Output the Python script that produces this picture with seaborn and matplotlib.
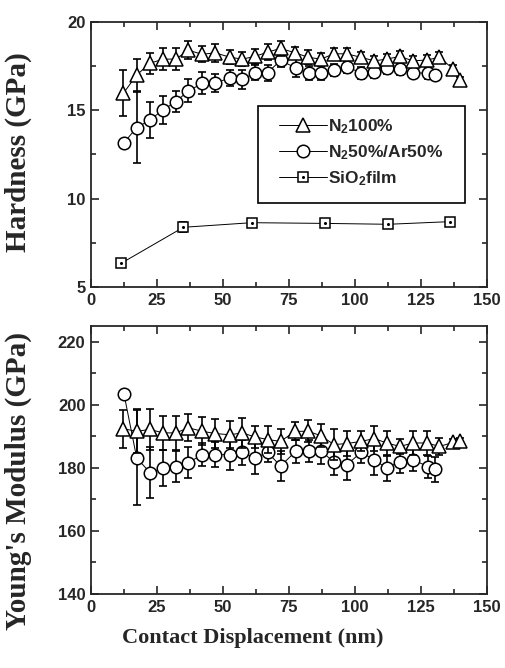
import matplotlib
matplotlib.use("Agg")
import matplotlib.pyplot as plt
from matplotlib.ticker import MultipleLocator
from matplotlib.patches import Rectangle
import seaborn as sns
import pandas as pd

# ---- Hardness data (GPa) vs contact displacement (nm) ----
x_n2 = [12.3, 17.3, 22.3, 27.3, 32.1, 36.9, 42.2, 47.0, 52.7, 57.3, 62.1, 66.9, 71.8,
        77.3, 82.3, 87.1, 92.0, 96.8, 102.3, 107.3, 112.0, 117.0, 122.0, 127.2, 132.0,
        137.2, 139.6]
h_n2 = [15.97, 17.0, 17.66, 17.9, 17.9, 18.4, 18.17, 18.26, 18.0, 17.9, 18.05, 18.3, 18.5,
        18.26, 18.0, 17.9, 18.2, 18.2, 18.0, 17.8, 17.9, 18.05, 17.8, 17.85, 18.0,
        17.34, 16.7]
h_n2_err = [1.3, 0.9, 0.6, 0.6, 0.6, 0.5, 0.45, 0.5, 0.4, 0.4, 0.42, 0.45, 0.4,
            0.35, 0.4, 0.35, 0.35, 0.3, 0.3, 0.3, 0.3, 0.3, 0.3, 0.3, 0.3, 0.2, 0.2]

x_mix = [12.5, 17.3, 22.3, 27.2, 32.1, 36.9, 42.2, 47.0, 52.7, 57.3, 62.1, 66.9, 71.8,
         77.5, 82.5, 87.1, 92.0, 96.9, 102.3, 107.3, 112.0, 117.0, 122.0, 127.6, 130.2]
h_mix = [13.17, 14.02, 14.45, 15.02, 15.49, 16.1, 16.53, 16.53, 16.85, 16.75, 17.12, 17.13,
         17.83, 17.4, 17.1, 17.12, 17.28, 17.45, 17.13, 17.18, 17.4, 17.34, 17.13, 17.1, 17.0]
h_mix_err = [0.2, 2.0, 1.0, 0.8, 0.6, 0.65, 0.62, 0.5, 0.45, 0.55, 0.43, 0.45, 0.4,
             0.5, 0.4, 0.4, 0.35, 0.35, 0.35, 0.35, 0.35, 0.35, 0.3, 0.3, 0.3]

x_sio2 = [11.4, 35.0, 60.9, 88.6, 112.6, 136.0]
h_sio2 = [6.34, 8.38, 8.64, 8.6, 8.55, 8.7]
h_sio2_err = [0.12, 0.28, 0.2, 0.22, 0.2, 0.2]

# ---- Young's modulus data (GPa) ----
e_n2 = [192.4, 191.6, 192.2, 191.1, 191.1, 192.7, 191.6, 190.9, 190.5, 191.1, 189.8, 189.0,
        188.4, 191.6, 191.6, 190.2, 187.4, 187.7, 188.4, 189.3, 187.9, 186.8, 187.9, 187.9,
        186.8, 188.1, 188.5]
e_n2_err = [6.0, 7.0, 6.5, 5.3, 5.3, 4.3, 4.5, 4.5, 4.3, 4.8, 3.4, 4.4, 4.0, 2.9, 3.5, 3.6,
            5.0, 3.9, 3.2, 3.9, 3.7, 2.4, 3.7, 3.7, 2.7, 1.0, 1.0]

e_mix = [203.4, 183.2, 178.5, 179.9, 180.4, 181.7, 184.2, 184.2, 184.2, 184.9, 183.1, 184.9,
         180.6, 185.2, 185.4, 185.2, 182.0, 181.0, 184.9, 182.6, 179.9, 182.0, 182.6, 180.4,
         179.6]
e_mix_err = [0.8, 15.0, 8.0, 5.7, 5.0, 5.0, 3.7, 4.0, 4.8, 4.0, 5.0, 3.0, 4.7, 3.5, 3.5, 4.0,
             4.4, 4.7, 3.5, 4.7, 4.0, 3.5, 3.5, 3.5, 4.0]

series_labels = ["N$_2$100%", "N$_2$50%/Ar50%", "SiO$_2$film"]

sns.set_style("ticks")
plt.rcParams.update({
    "font.family": ["Liberation Sans", "DejaVu Sans"],
    "font.weight": "bold",
    "mathtext.fontset": "custom",
    "mathtext.rm": "Liberation Sans:bold",
    "mathtext.it": "Liberation Sans:bold",
    "mathtext.bf": "Liberation Sans:bold",
    "axes.linewidth": 1.3,
    "xtick.direction": "in",
    "ytick.direction": "in",
})

fig = plt.figure(figsize=(5.05, 6.68), dpi=100)
ax_h = fig.add_axes([91 / 505, 1 - 287 / 668, 396 / 505, 265 / 668])
ax_e = fig.add_axes([91 / 505, 1 - 594 / 668, 396 / 505, 268 / 668])

bar_kw = dict(fmt="none", ecolor="black", elinewidth=1.2, capsize=3, capthick=1.2)
mk_kw = dict(color="black", linewidth=0.7, markerfacecolor="white", markeredgecolor="black",
             markeredgewidth=1.1, legend=False)


def draw_series(ax, x, y, err, marker, ms, z):
    df = pd.DataFrame({"x": x, "y": y})
    ax.errorbar(x, y, yerr=err, zorder=z, **bar_kw)
    sns.lineplot(data=df, x="x", y="y", ax=ax, marker=marker, markersize=ms,
                 sort=False, zorder=z + 0.5, **mk_kw)
    return ax.get_lines()[-1]


# Hardness panel
l_sq = draw_series(ax_h, x_sio2, h_sio2, h_sio2_err, "s", 7.2, 2)
l_dot, = ax_h.plot(x_sio2, h_sio2, linestyle="none", marker="o", markersize=1.2,
                   color="black", zorder=3)
l_ci = draw_series(ax_h, x_mix, h_mix, h_mix_err, "o", 9, 4)
l_tr = draw_series(ax_h, x_n2, h_n2, h_n2_err, "^", 9.5, 6)

# Modulus panel
draw_series(ax_e, x_mix, e_mix, e_mix_err, "o", 9, 4)
draw_series(ax_e, x_n2, e_n2, e_n2_err, "^", 9.5, 6)

for ax in (ax_h, ax_e):
    ax.set_xlim(0, 150)
    ax.xaxis.set_major_locator(MultipleLocator(25))
    ax.xaxis.set_minor_locator(MultipleLocator(12.5))
    ax.tick_params(which="both", top=True, right=True, width=1.2)
    ax.tick_params(which="major", length=6, labelsize=12, pad=4)
    ax.tick_params(which="minor", length=3.5)
    ax.set_xlabel("")
    for lab in ax.get_xticklabels() + ax.get_yticklabels():
        lab.set_fontweight("bold")

ax_h.set_ylim(5, 20)
ax_h.yaxis.set_major_locator(MultipleLocator(5))
ax_h.yaxis.set_minor_locator(MultipleLocator(2.5))
ax_e.set_ylim(140, 225)
ax_e.yaxis.set_major_locator(MultipleLocator(20))
ax_e.yaxis.set_minor_locator(MultipleLocator(10))

label_font = dict(family="Liberation Serif", weight="bold", size=21)
ax_h.set_ylabel("Hardness (GPa)", **label_font)
ax_e.set_ylabel("Young's Modulus (GPa)", **label_font)
ax_h.yaxis.set_label_coords(-0.148, 0.51)
ax_e.yaxis.set_label_coords(-0.148, 0.42)
fig.text(0.5, 1 - 638 / 668, "Contact Displacement (nm)", ha="center", va="center",
         family="Liberation Serif", weight="bold", size=16)

# Legend entries without their own frame; the box is drawn separately
leg = ax_h.legend([l_tr, l_ci, (l_sq, l_dot)], series_labels,
                  loc="upper left", bbox_to_anchor=((279 - 91) / 396, (287 - 117) / 265),
                  borderaxespad=0, borderpad=0, frameon=False,
                  prop=dict(family="Liberation Sans", weight="bold", size=12.5),
                  handlelength=2.75, handletextpad=0.1, labelspacing=0.42, numpoints=1)
ax_h.add_patch(Rectangle(((258 - 91) / 396, (287 - 203) / 265), 207 / 396, 97 / 265,
                         transform=ax_h.transAxes, fill=False, edgecolor="black",
                         linewidth=1.2, zorder=10))

fig.savefig("out.png", dpi=100)
